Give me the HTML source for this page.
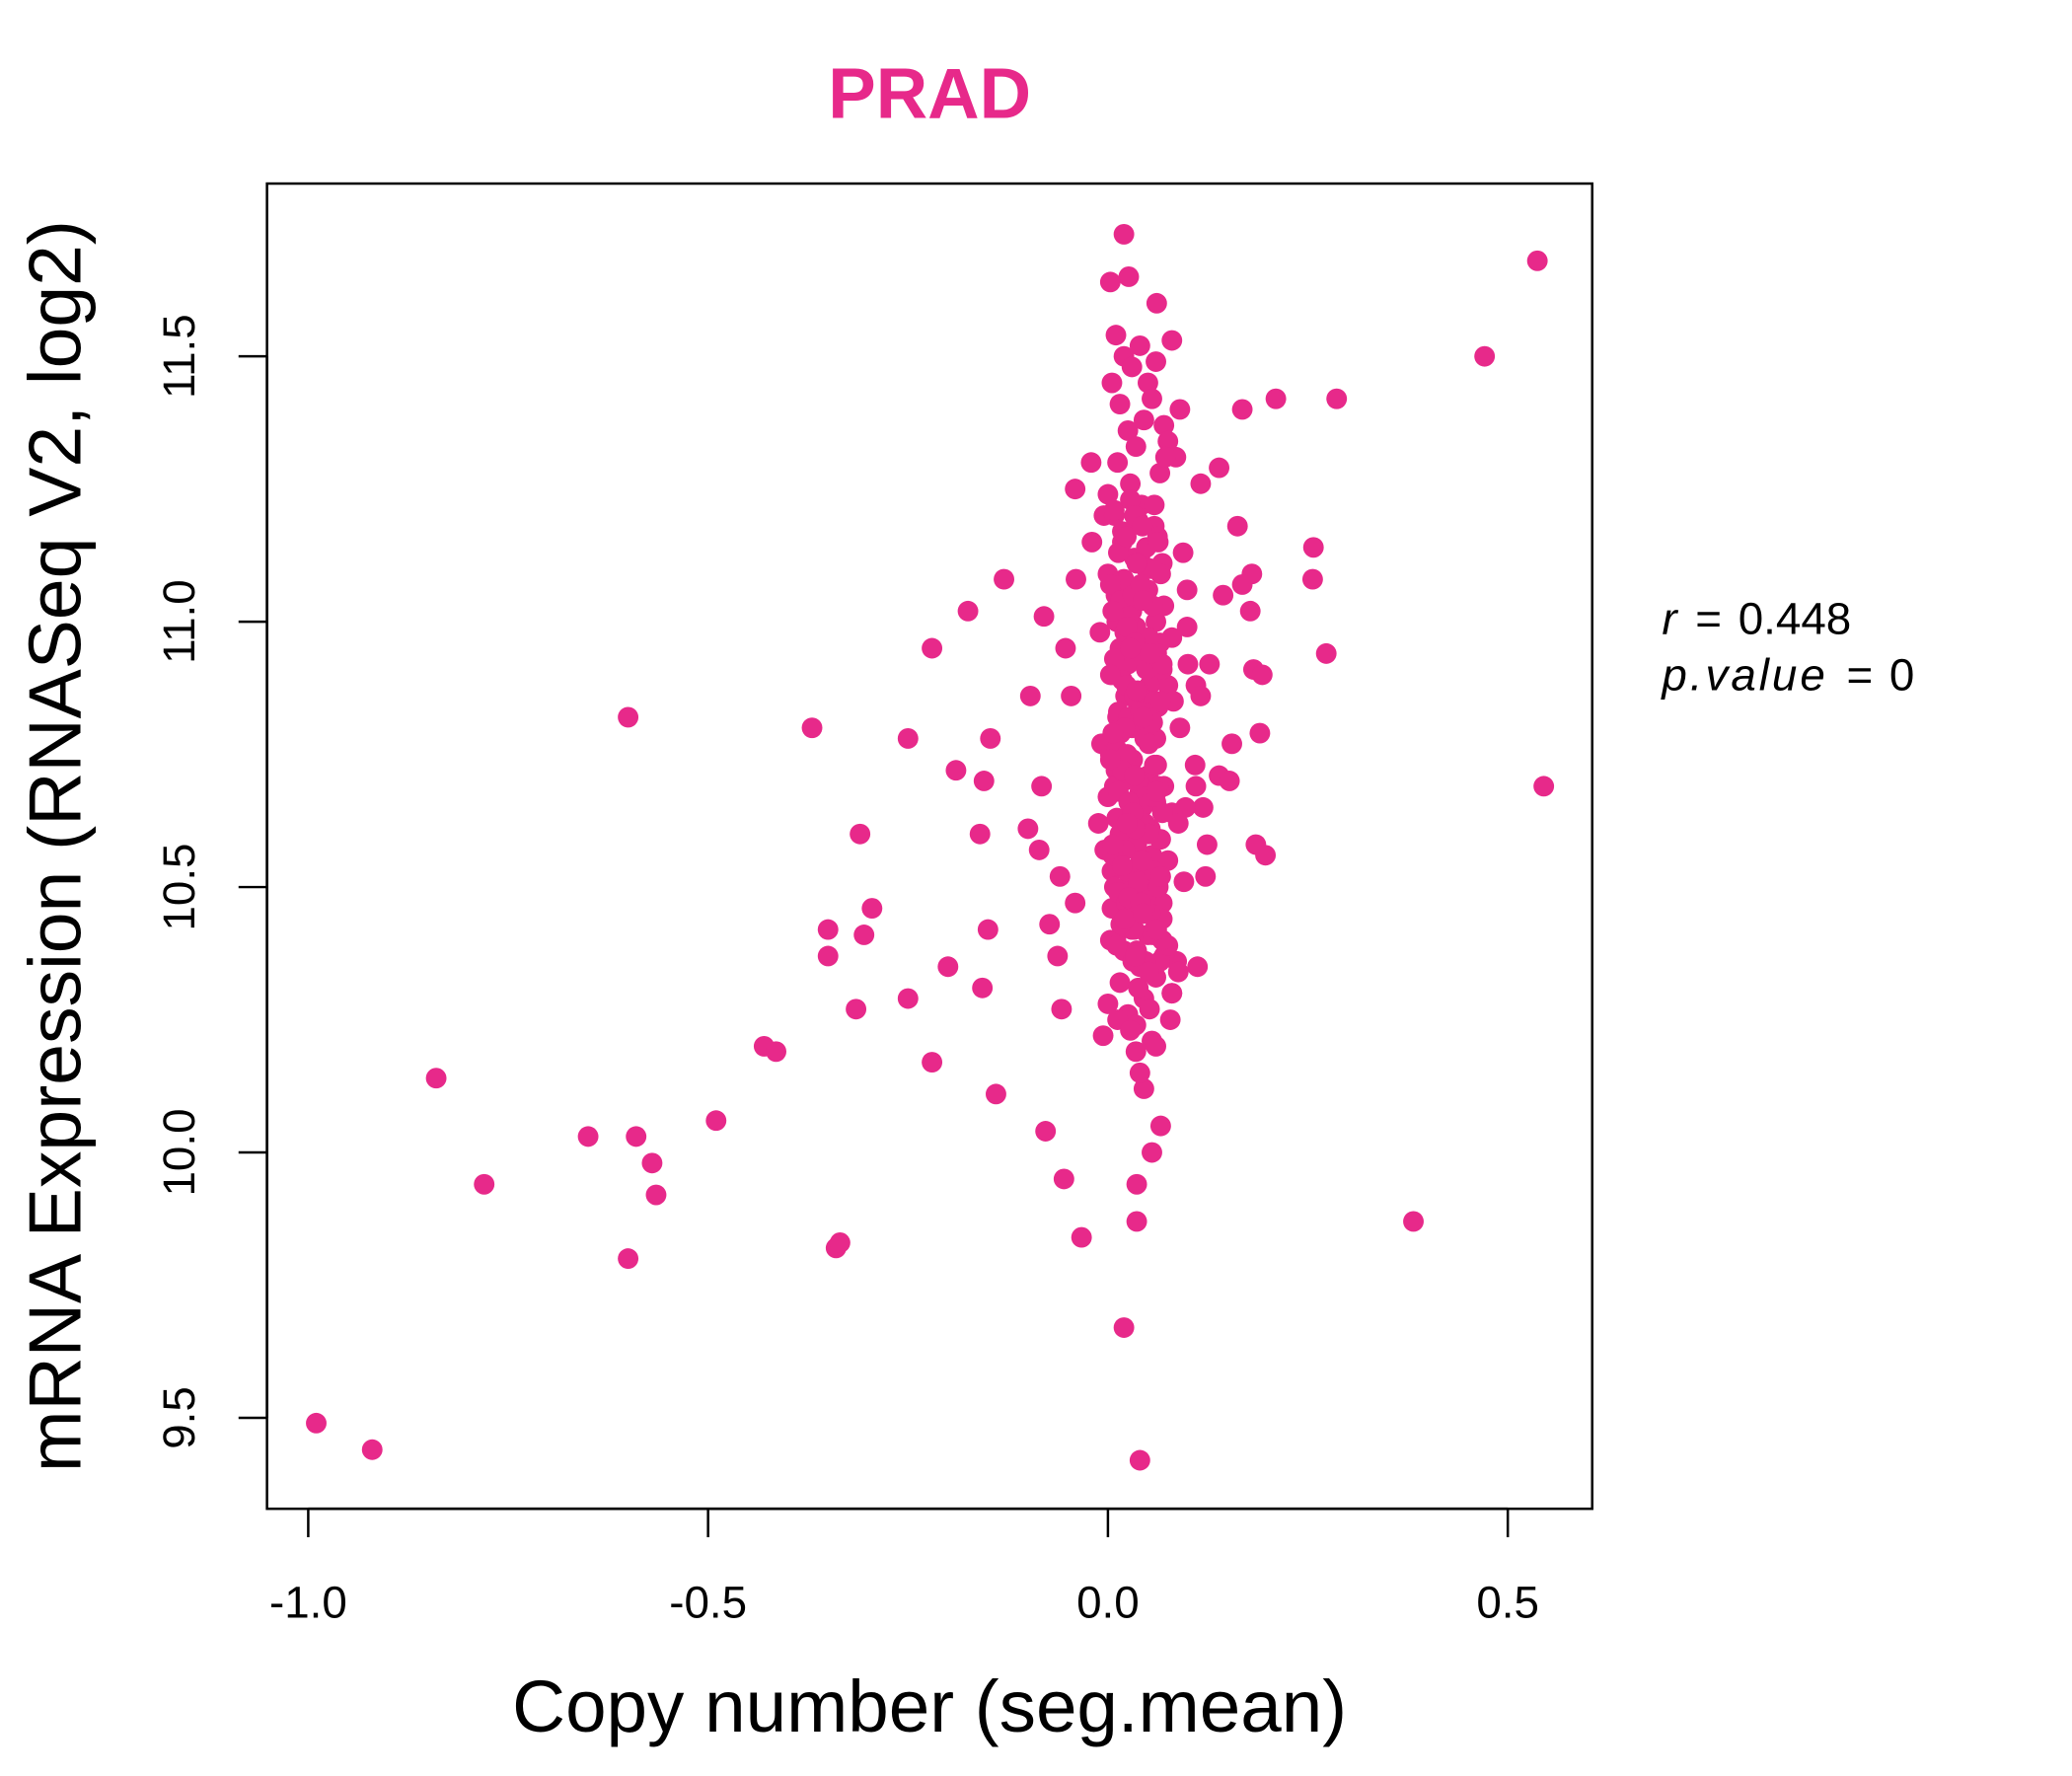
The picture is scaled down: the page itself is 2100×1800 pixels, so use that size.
<!DOCTYPE html>
<html><head><meta charset="utf-8"><style>
html,body{margin:0;padding:0;background:#fff;}
svg{display:block;font-family:"Liberation Sans",Arial,sans-serif;}
</style></head><body>
<svg id="chart" width="2100" height="1800" viewBox="0 0 2100 1800" xmlns="http://www.w3.org/2000/svg">
<g transform="scale(0.9949)">
<text x="947" y="120" font-size="73" font-weight="bold" fill="#E7298A" text-anchor="middle">PRAD</text>
<rect x="272" y="187" width="1350" height="1350" fill="none" stroke="#000" stroke-width="2.5"/>
<g id="points"></g>
<g id="xaxis"></g>
<g id="yaxis"></g>
<text x="947" y="1764" font-size="75" text-anchor="middle">Copy number (seg.mean)</text>
<text transform="translate(82,862) rotate(-90)" font-size="75.5" text-anchor="middle">mRNA Expression (RNASeq V2, log2)</text>
<text x="1693" y="646" font-size="46" xml:space="preserve"><tspan font-style="italic">r</tspan> <tspan dx="6">=</tspan> <tspan dx="4">0.448</tspan></text>
<text x="1693" y="703" font-size="46" xml:space="preserve"><tspan font-style="italic" letter-spacing="3">p.value</tspan> <tspan dx="6">=</tspan> <tspan dx="4">0</tspan></text>
</g>
</svg>
<script>
const xVals=[-0.99,-0.92,-0.84,-0.78,-0.65,-0.60,-0.60,-0.59,-0.57,-0.565,-0.49,-0.43,-0.415,-0.37,-0.35,-0.35,-0.34,-0.335,-0.315,-0.31,-0.305,-0.295,-0.25,-0.25,-0.22,-0.22,-0.20,-0.19,-0.175,-0.16,-0.157,-0.155,-0.15,-0.147,-0.14,-0.13,-0.10,-0.097,-0.086,-0.083,-0.08,-0.078,-0.073,-0.063,-0.06,-0.058,-0.055,-0.053,-0.046,-0.041,-0.04,-0.041,-0.033,-0.021,-0.02,
0.02,0.026,0.003,0.061,0.02,0.04,0.036,0.036,0.055,0.066,0.045,0.035,0.078,0.08,0.112,0.086,0.168,0.21,0.286,0.139,0.116,0.162,0.257,0.256,0.18,0.168,0.144,0.178,0.273,0.182,0.193,0.127,0.19,0.155,0.139,0.152,0.109,0.11,0.119,0.185,0.197,0.124,0.122,0.471,0.537,0.545,0.382,0.094,0.099,0.099,0.11,0.116,0.097,
0.01,0.02,0.03,0.04,0.05,0.06,0.07,0.08,0.085,0.09,0.005,0.015,0.025,0.035,0.045,0.055,0.065,0.075,0.0,-0.005,0.012,0.028,0.042,0.058,0.072,0.018,0.033,0.048,0.062,0.008,
0.01,0.02,0.03,0.04,0.05,0.06,0.07,0.08,0.0,-0.01,0.015,0.025,0.035,0.045,0.055,0.065,0.075,0.005,0.022,0.038,0.052,0.068,0.012,0.03,0.047,0.06,0.082,0.09,-0.008,0.003,
0.01,0.02,0.03,0.04,0.05,0.06,0.07,0.08,0.0,-0.012,0.015,0.025,0.035,0.045,0.055,0.065,0.075,0.088,0.005,0.022,0.038,0.052,0.068,0.012,0.03,0.047,0.06,0.095,-0.004,0.018,
0.01,0.02,0.03,0.04,0.05,0.06,0.07,0.08,0.0,-0.006,0.015,0.025,0.035,0.045,0.055,0.065,0.075,0.088,0.005,0.022,0.038,0.052,0.068,0.012,0.03,0.047,0.06,0.1,0.04,0.028,
0.008,0.018,0.028,0.038,0.048,0.058,0.068,0.013,0.023,0.033,0.043,0.053,0.063,0.003,0.016,0.026,0.036,0.046,0.056,0.066,0.011,0.021,0.031,0.041,0.051,0.061,0.006,0.024,0.034,0.044,
0.008,0.018,0.028,0.038,0.048,0.058,0.068,0.013,0.023,0.033,0.043,0.053,0.063,0.003,0.016,0.026,0.036,0.046,0.056,0.066,0.011,0.021,0.031,0.041,0.051,0.061,0.006,0.024,0.034,0.044,
0.008,0.018,0.028,0.038,0.048,0.058,0.068,0.013,0.023,0.033,0.043,0.053,0.063,0.003,0.016,0.026,0.036,0.046,0.056,0.066,0.011,0.021,0.031,0.041,0.051,0.061,0.006,0.024,0.034,0.044,
0.008,0.018,0.028,0.038,0.048,0.058,0.068,0.013,0.023,0.033,0.043,0.053,0.063,0.003,0.016,0.026,0.036,0.046,0.056,0.066,0.011,0.021,0.031,0.041,0.051,0.061,0.006,0.024,0.034,0.044];
const yVals=[9.49,9.44,10.14,9.94,10.03,10.82,9.80,10.03,9.98,9.92,10.06,10.20,10.19,10.80,10.42,10.37,9.82,9.83,10.27,10.60,10.41,10.46,10.78,10.29,10.95,10.17,10.35,10.72,11.02,10.60,10.31,10.70,10.42,10.78,10.11,11.08,10.61,10.86,10.57,10.69,11.01,10.04,10.43,10.37,10.52,10.27,9.95,10.95,10.86,11.25,11.08,10.47,9.84,11.30,11.15,
11.73,11.65,11.64,11.60,9.67,9.42,9.87,9.94,10.00,10.05,10.12,10.19,10.25,10.30,10.35,10.36,11.40,11.42,11.42,11.29,11.26,11.18,11.14,11.08,11.09,11.07,11.05,11.02,10.94,10.91,10.90,10.92,10.79,10.77,10.71,10.70,10.73,10.69,10.65,10.58,10.56,10.58,10.52,11.50,11.68,10.69,9.87,11.13,10.99,11.06,10.88,10.86,10.65,
11.54,11.50,11.48,11.52,11.45,11.49,11.37,11.53,11.31,11.40,11.45,11.41,11.36,11.33,11.38,11.42,11.28,11.34,11.24,11.20,11.30,11.26,11.22,11.18,11.31,11.15,11.12,11.10,11.16,11.20,
11.05,11.08,11.02,11.12,11.06,11.00,11.03,10.97,11.09,10.98,10.95,10.92,10.99,10.93,10.90,10.96,10.88,10.90,10.86,10.84,10.88,10.91,10.82,10.80,10.83,10.78,10.85,10.80,10.77,10.75,
10.72,10.70,10.74,10.68,10.71,10.66,10.69,10.64,10.67,10.62,10.60,10.63,10.58,10.61,10.56,10.59,10.55,10.62,10.53,10.50,10.52,10.49,10.47,10.54,10.45,10.48,10.43,10.51,10.57,10.44,
10.40,10.38,10.42,10.35,10.41,10.33,10.37,10.30,10.28,10.22,10.32,10.26,10.24,10.29,10.21,10.36,10.39,10.34,10.46,10.50,10.31,10.27,10.40,10.25,10.44,10.36,10.20,10.92,10.15,10.23,
11.21,11.17,11.23,11.19,11.14,11.22,11.11,11.13,11.16,11.20,11.18,11.10,11.15,11.07,11.04,11.01,11.11,11.06,11.03,11.09,11.00,10.98,11.05,11.07,10.97,10.94,11.02,10.99,10.96,11.04,
10.93,10.89,10.95,10.87,10.91,10.85,10.92,10.83,10.88,10.86,10.81,10.94,10.84,10.90,10.79,10.82,10.87,10.78,10.81,10.85,10.76,10.80,10.74,10.83,10.77,10.73,10.79,10.75,10.71,10.82,
10.69,10.72,10.66,10.70,10.67,10.73,10.64,10.68,10.63,10.71,10.65,10.61,10.69,10.74,10.60,10.66,10.58,10.62,10.67,10.59,10.63,10.57,10.64,10.55,10.60,10.68,10.56,10.53,10.61,10.52,
10.50,10.54,10.48,10.51,10.46,10.53,10.44,10.49,10.47,10.42,10.55,10.45,10.50,10.40,10.43,10.48,10.38,10.46,10.41,10.52,10.39,10.44,10.36,10.47,10.34,10.42,10.58,10.62,10.37,10.45];
const xTicks=[-1.0,-0.5,0.0,0.5];
const xTickLabels=["-1.0","-0.5","0.0","0.5"];
const yTicks=[9.5,10.0,10.5,11.0,11.5];
const yTickLabels=["9.5","10.0","10.5","11.0","11.5"];
const NS='http://www.w3.org/2000/svg';
function xs(v){return 314+(v+1.0)*(1536-314)/1.5;}
function ys(v){return 1174-(v-10.0)*(1174-363)/1.5;}
const pg=document.getElementById('points');
for(let i=0;i<xVals.length;i++){
 const c=document.createElementNS(NS,'circle');
 c.setAttribute('cx',xs(xVals[i]));c.setAttribute('cy',ys(yVals[i]));c.setAttribute('r',10.5);c.setAttribute('fill','#E7298A');
 
 
 pg.appendChild(c);
}
const xg=document.getElementById('xaxis');
let l=document.createElementNS(NS,'line');
l.setAttribute('x1',xs(xTicks[0]));l.setAttribute('x2',xs(xTicks[xTicks.length-1]));l.setAttribute('y1',1537);l.setAttribute('y2',1537);l.setAttribute('stroke','#000');l.setAttribute('stroke-width',2.5);


xg.appendChild(l);
xTicks.forEach((t,i)=>{
 const tk=document.createElementNS(NS,'line');
 tk.setAttribute('x1',xs(t));tk.setAttribute('x2',xs(t));tk.setAttribute('y1',1537);tk.setAttribute('y2',1566);tk.setAttribute('stroke','#000');tk.setAttribute('stroke-width',2.5);
 
 
 xg.appendChild(tk);
 const tx=document.createElementNS(NS,'text');
 tx.setAttribute('x',xs(t));tx.setAttribute('y',1648);tx.setAttribute('font-size',46);tx.setAttribute('text-anchor','middle');
 tx.textContent=xTickLabels[i];
 
 
 xg.appendChild(tx);
});
const yg=document.getElementById('yaxis');
let l2=document.createElementNS(NS,'line');
l2.setAttribute('x1',272);l2.setAttribute('x2',272);l2.setAttribute('y1',ys(yTicks[0]));l2.setAttribute('y2',ys(yTicks[yTicks.length-1]));l2.setAttribute('stroke','#000');l2.setAttribute('stroke-width',2.5);


yg.appendChild(l2);
yTicks.forEach((t,i)=>{
 const tk=document.createElementNS(NS,'line');
 tk.setAttribute('x1',243);tk.setAttribute('x2',272);tk.setAttribute('y1',ys(t));tk.setAttribute('y2',ys(t));tk.setAttribute('stroke','#000');tk.setAttribute('stroke-width',2.5);
 
 
 yg.appendChild(tk);
 const tx=document.createElementNS(NS,'text');
 tx.setAttribute('transform','translate(198,'+ys(t)+') rotate(-90)');tx.setAttribute('font-size',46);tx.setAttribute('text-anchor','middle');
 tx.textContent=yTickLabels[i];
 
 
 yg.appendChild(tx);
});
</script>
</body></html>
